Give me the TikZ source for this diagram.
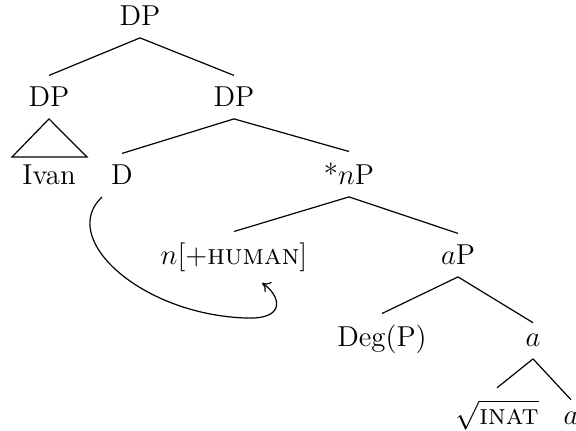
\documentclass[tikz,border=0pt]{standalone}
\usetikzlibrary{calc,arrows.meta}
\begin{document}
\begin{tikzpicture}[x=0.5pt,y=-0.5pt,
  lab/.style={anchor=base,inner xsep=0pt,inner ysep=5.75pt,font=\fontsize{14.4}{17}\selectfont},
  edge/.style={line width=0.6pt}]
\useasboundingbox (0,0) rectangle (576,431);
\node[lab] (dp) at (140,26) {DP};
\node[lab] (dpl) at (49,107) {DP};
\node[lab] (dpr) at (234,107) {DP};
\node[lab] (ivan) at (49,185) {Ivan};
\node[lab] (d) at (122,185) {D};
\node[lab] (np) at (349,185) {*$n$P};
\node[lab] (n) at (234,265) {$n[+$\textsc{human}$]$};
\node[lab] (ap) at (458,265) {$a$P};
\node[lab] (deg) at (382,347) {Deg(P)};
\node[lab] (a) at (533,347) {$a$};
\node[lab] (inat) at (497,424) {$\sqrt{\textsc{inat}}$};
\node[lab] (a2) at (571,424) {$a$};
\draw[edge] (dp.south) -- (dpl.north);
\draw[edge] (dp.south) -- (dpr.north);
\draw[edge] (dpl.south) -- ($(ivan.base)+(-37,-28)$) -- ($(ivan.base)+(38,-28)$) -- cycle;
\draw[edge] (dpr.south) -- (d.north);
\draw[edge] (dpr.south) -- (np.north);
\draw[edge] (np.south) -- (n.north);
\draw[edge] (np.south) -- (ap.north);
\draw[edge] (ap.south) -- (deg.north);
\draw[edge] (ap.south) -- (a.north);
\draw[edge] (a.south) -- (inat.north);
\draw[edge] (a.south) -- (a2.north);
\coordinate (cs) at ($(d.base)+(-20,12)$);
\coordinate (ce) at ($(n.base)+(28,18)$);
\draw[edge,-{To[length=4pt,width=6pt]}] (cs) .. controls (58,238) and (140,314) .. (245,318) .. controls (288,320) and (280,295) .. (ce);
\end{tikzpicture}
\end{document}
